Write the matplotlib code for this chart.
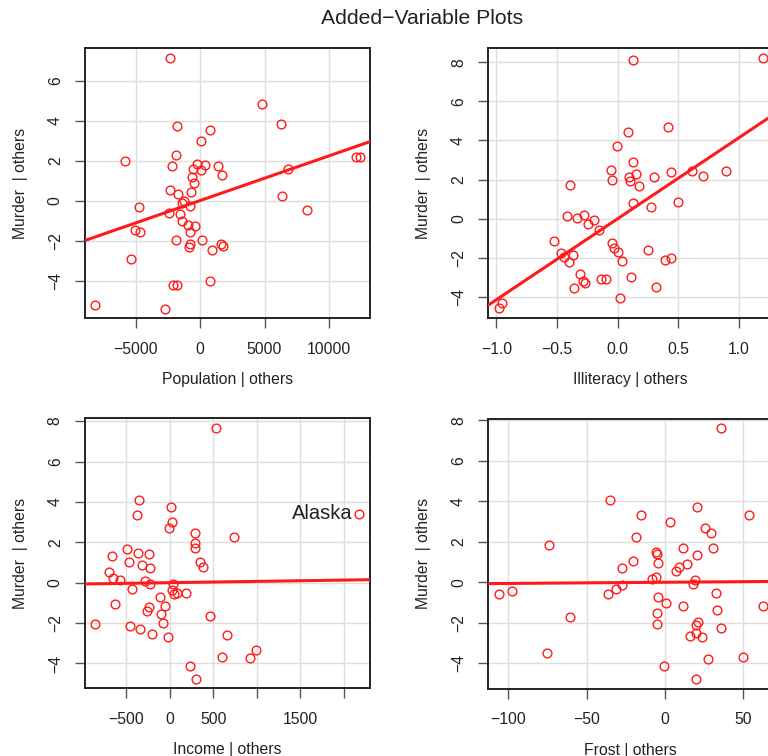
#!/usr/bin/env python3
"""Added-variable plots for Murder ~ Population + Illiteracy + Income + Frost."""

import matplotlib

matplotlib.use("Agg")
import matplotlib.pyplot as plt

plt.rcParams["font.family"] = ["Liberation Sans", "DejaVu Sans"]

# residuals (x | others, Murder | others)
pop_x = [-2326, 4831, 6279, -1809, 801, 52, -1886, -5814, -2197, -258,
         414, -568, 103, 1395, 1680, -646, -465, 12093, 12403, 6796,
         -2326, -1731, -698, 6331, -4703, -1215, -1370, -775, 8295, -2403,
         -1550, -1395, -904, -388, -775, -5039, -4626, -1886, 181, -801,
         -853, 1654, 1783, 956, -5374, 775, -2119, -1757, -8114, -2713]
pop_y = [7.12, 4.82, 3.84, 3.72, 3.53, 3.00, 2.29, 2.00, 1.74, 1.85,
         1.79, 1.57, 1.53, 1.74, 1.27, 1.19, 0.89, 2.17, 2.17, 1.59,
         0.54, 0.35, 0.42, 0.24, -0.32, -0.02, -0.13, -0.25, -0.45, -0.63,
         -0.65, -1.03, -1.23, -1.28, -1.57, -1.48, -1.57, -1.97, -1.97, -2.17,
         -2.30, -2.15, -2.25, -2.48, -2.90, -4.00, -4.22, -4.22, -5.23, -5.40]

illit_x = [0.124, 1.195, 0.415, 0.082, -0.003, 0.124, -0.053, -0.047, 0.096, 0.101,
           0.154, 0.173, 0.299, 0.442, 0.610, 0.706, 0.890, -0.393, 0.130, 0.497,
           0.272, -0.418, -0.333, -0.278, -0.247, -0.193, -0.157, -0.523, -0.050, -0.030,
           0.000, -0.470, -0.443, -0.369, -0.401, 0.033, 0.252, 0.393, 0.439, -0.311,
           -0.289, -0.272, -0.363, -0.135, -0.096, 0.107, 0.313, 0.019, -0.979, -0.954]
illit_y = [8.13, 8.22, 4.67, 4.43, 3.70, 2.92, 2.47, 2.00, 2.11, 1.91,
           2.29, 1.69, 2.11, 2.39, 2.42, 2.16, 2.45, 1.70, 0.78, 0.87,
           0.58, 0.15, 0.03, 0.17, -0.29, -0.09, -0.60, -1.13, -1.25, -1.52,
           -1.70, -1.77, -1.96, -1.85, -2.23, -2.18, -1.60, -2.13, -2.01, -2.83,
           -3.21, -3.27, -3.55, -3.10, -3.10, -3.00, -3.51, -4.08, -4.59, -4.31]

income_x = [527, -356, -378, 15, 23, -5, 2175, 294, 294, 287,
            737, -493, -665, -367, -237, -467, -314, -229, 344, 378,
            -696, -647, -573, -283, -222, -436, 38, 26, 46, 88,
            183, -115, -627, -50, -241, -257, -103, 459, -853, -73,
            -459, -341, -203, -19, 657, 990, 603, 917, 229, 298]
income_y = [7.66, 4.09, 3.34, 3.73, 2.99, 2.71, 3.42, 2.46, 1.97, 1.72,
            2.26, 1.67, 1.31, 1.49, 1.42, 1.04, 0.89, 0.74, 1.04, 0.78,
            0.53, 0.25, 0.15, 0.08, -0.06, -0.33, -0.06, -0.35, -0.58, -0.53,
            -0.53, -0.73, -1.05, -1.17, -1.19, -1.40, -1.53, -1.65, -2.04, -2.02,
            -2.14, -2.29, -2.52, -2.69, -2.57, -3.33, -3.68, -3.73, -4.12, -4.75]

frost_x = [35.8, -35.3, -15.3, 20.6, 53.8, 3.2, 25.5, 29.2, -18.5, -74.1,
           11.5, 30.4, -5.7, -4.9, 20.6, -20.2, -4.5, -27.5, 8.7, 7.2,
           13.8, -8.5, -5.7, 19.4, 18.1, -27.7, -31.1, -36.4, -106.0, -97.9,
           32.6, -4.5, 0.6, 11.7, 62.4, 33.2, -4.9, -60.9, -5.3, 21.1,
           19.8, 35.6, 16.0, 19.8, 23.4, -75.2, 50.0, 27.3, -0.4, 19.6]
frost_y = [7.64, 4.07, 3.33, 3.73, 3.32, 2.97, 2.70, 2.44, 2.21, 1.86,
           1.70, 1.70, 1.50, 1.40, 1.34, 1.05, 0.97, 0.72, 0.77, 0.56,
           0.91, 0.18, 0.28, 0.11, -0.08, -0.12, -0.33, -0.59, -0.60, -0.43,
           -0.51, -0.74, -1.04, -1.17, -1.17, -1.39, -1.54, -1.73, -2.05, -1.98,
           -2.13, -2.28, -2.64, -2.52, -2.69, -3.47, -3.70, -3.78, -4.14, -4.77]

# partial regression slopes (lines pass through the origin)
slopes = [2.237e-4, 4.143, 6.442e-5, 5.813e-4]
x_names = ["Population", "Illiteracy", "Income", "Frost"]

x_ticks = [
    [-5000, 0, 5000, 10000],
    [-1.0, -0.5, 0.0, 0.5, 1.0],
    [-500, 0, 500, 1000, 1500, 2000],
    [-100, -50, 0, 50],
]
x_ticklabels = [
    ["\u22125000", "0", "5000", "10000"],
    ["\u22121.0", "\u22120.5", "0.0", "0.5", "1.0"],
    ["\u2212500", "0", "500", "", "1500", ""],
    ["\u2212100", "\u221250", "0", "50"],
]
y_ticks = [
    [-4, -2, 0, 2, 4, 6],
    [-4, -2, 0, 2, 4, 6, 8],
    [-4, -2, 0, 2, 4, 6, 8],
    [-4, -2, 0, 2, 4, 6, 8],
]
x_limits = [(-8915, 13178), (-1.067, 1.283), (-971, 2297), (-112.8, 69.2)]
y_limits = [(-5.87, 7.63), (-5.08, 8.73), (-5.23, 8.14), (-5.25, 8.08)]

label_text = "Alaska"
label_index = 6  # Alaska in the income panel

RED = "#ff1a1a"
TEXT = "#222222"
W, H = 768, 756


def px_box(left, top, width, height):
    return [left / W, 1 - (top + height) / H, width / W, height / H]


def style_axis(ax, i):
    ax.set_xlim(*x_limits[i])
    ax.set_ylim(*y_limits[i])
    ax.set_xticks(x_ticks[i])
    ax.set_xticklabels(x_ticklabels[i])
    ax.set_yticks(y_ticks[i])
    ax.set_yticklabels([str(v).replace("-", "\u2212") for v in y_ticks[i]],
                       rotation=90, va="center")
    ax.grid(True, color="#dedede", linewidth=1.0)
    ax.set_axisbelow(True)
    for spine in ax.spines.values():
        spine.set_color("#222222")
        spine.set_linewidth(1.4)
    ax.tick_params(length=7, width=1.0, color="#555555", labelsize=11.3,
                   labelcolor=TEXT)
    ax.tick_params(axis="x", pad=10)
    ax.tick_params(axis="y", pad=9)
    ax.set_xlabel(f"{x_names[i]} | others", fontsize=11.3, color=TEXT)
    ax.set_ylabel("Murder  | others", fontsize=11.3, color=TEXT)
    ax.xaxis.set_label_coords(0.5, -0.2)
    ax.yaxis.set_label_coords(-0.2, 0.5)


def main() -> None:
    fig = plt.figure(figsize=(W / 100, H / 100), dpi=100)
    boxes = [
        px_box(85, 48, 285, 270),
        px_box(488.3, 48, 285, 270),
        px_box(85, 418.3, 285, 270),
        px_box(488.3, 418.6, 285, 270),
    ]
    data = [(pop_x, pop_y), (illit_x, illit_y), (income_x, income_y), (frost_x, frost_y)]

    for i, (box, (xs, ys)) in enumerate(zip(boxes, data)):
        ax = fig.add_axes(box)
        ax.plot(xs, ys, linestyle="none", marker="o", markersize=6.3,
                markerfacecolor="none", markeredgecolor=RED,
                markeredgewidth=1.0, zorder=3)
        ax.axline((0, 0), slope=slopes[i], color=RED, linewidth=2.2, zorder=4)
        style_axis(ax, i)
        if i == 2:
            ax.annotate(label_text, (xs[label_index], ys[label_index]),
                        xytext=(-5, 0), textcoords="offset points",
                        ha="right", va="center", fontsize=14.5, color=TEXT)

    fig.text(421.7 / W, 1 - 19 / H, "Added\u2212Variable Plots",
             ha="center", va="center", fontsize=15.2, color=TEXT)
    fig.savefig("out.png", dpi=100)
    plt.close(fig)


if __name__ == "__main__":
    main()
